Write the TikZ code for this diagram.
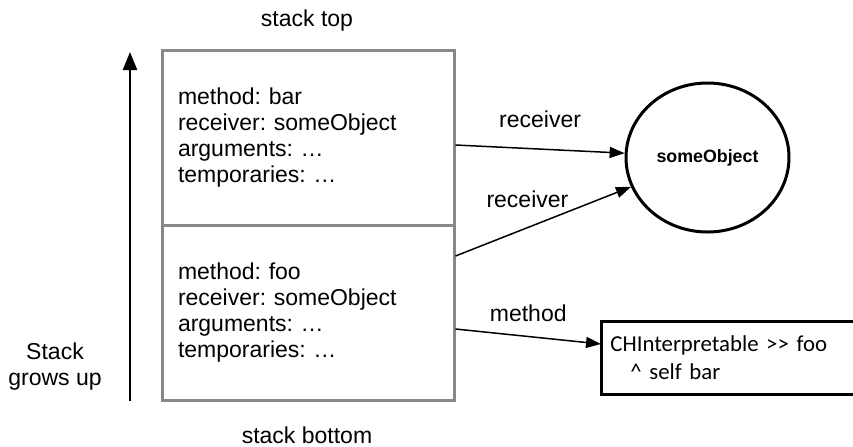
\documentclass[tikz,border=0pt]{standalone}
\usepackage{fontspec}
\setmainfont{Liberation Sans}
\newfontfamily\calibrifont{Carlito}
\usetikzlibrary{arrows.meta, positioning, shapes.geometric}
\definecolor{framegray}{HTML}{888888}
\frenchspacing

\begin{document}
\begin{tikzpicture}[x=0.5pt, y=-0.5pt,
    stackframe/.style={draw=framegray, line width=1.5pt, minimum width=146pt, minimum height=87.5pt,
                  text width=130pt, inner xsep=8pt, align=left, font=\fontsize{11.5}{13}\selectfont},
    lbl/.style={inner sep=0pt, font=\fontsize{11.5}{13}\selectfont},
    arr/.style={-{Triangle[length=7.5pt, width=5.5pt]}, line width=0.75pt},
]
    \useasboundingbox (0,0) rectangle (853,446);

    % stack frames
    \node[stackframe] (barframe) at (308,137.5) {method: bar\\receiver: someObject\\arguments: …\\temporaries: …};
    \node[stackframe] (fooframe) at (308,312.5) {method: foo\\receiver: someObject\\arguments: …\\temporaries: …};
    \node[lbl, anchor=base] (stacktop) at (307,26) {stack top};
    \node[lbl, anchor=base] (stackbottom) at (307,443) {stack bottom};

    % growth direction
    \coordinate (growbase) at (130,401);
    \coordinate (growtip) at (130,52);
    \draw[-{Triangle[length=9pt, width=7pt]}, line width=1.25pt] (growbase) -- (growtip);
    \node[lbl, align=center] (growlabel) at (55,367) {Stack\\grows up};

    % receiver object and method source (box runs off the right edge)
    \node[draw, ellipse, line width=1.5pt, minimum width=81.5pt, minimum height=74.5pt, inner sep=0pt,
          font=\bfseries\fontsize{8.9}{10}\selectfont] (someobj) at (707.5,157.5) {someObject};
    \node[anchor=west, minimum width=140pt, minimum height=36pt,
          text width=131pt, inner xsep=4.5pt, align=left,
          font=\calibrifont\fontsize{11.4}{14}\selectfont] (methodbox) at (601,358)
          {CHInterpretable >\kern0pt> foo\\\hspace*{10pt}\textasciicircum{} self bar};
    \draw[line width=1.5pt] (methodbox.north east) -- (methodbox.north west)
        -- (methodbox.south west) -- (methodbox.south east);

    \draw[arr] ([yshift=-3.75pt]barframe.east) -- node[lbl, above=10.5pt] {receiver} (someobj.177);
    \draw[arr] ([yshift=28.25pt]fooframe.east) -- node[lbl, pos=0.41, above=9.8pt] {receiver} (someobj.201);
    \draw[arr] ([yshift=-8.25pt]fooframe.east) -- node[lbl, above=7.25pt] {method} ([yshift=7pt]methodbox.west);
\end{tikzpicture}
\end{document}
